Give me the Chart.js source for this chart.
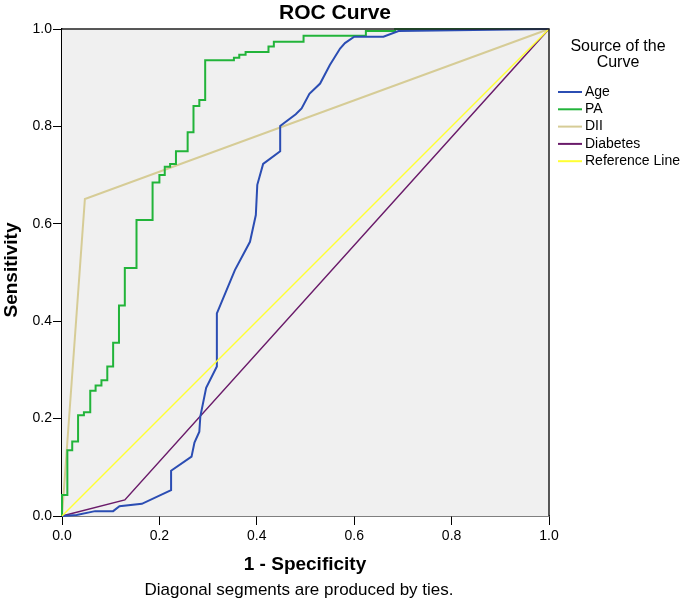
<!DOCTYPE html>
<html lang="en">
  <head>
    <meta charset="UTF-8" />
    <title>ROC Curve</title>
    <script src="https://cdn.jsdelivr.net/npm/chart.js@4.4.1/dist/chart.umd.min.js"></script>
    <style>
      body { margin: 0; background: #fff; }
    </style>
  </head>
  <body>
    <canvas id="chart" width="685" height="603"></canvas>
    <script>
    // values (1 - specificity, sensitivity)
    const ageX = [0, 0.03, 0.068, 0.105, 0.118, 0.164, 0.224, 0.224, 0.266, 0.272, 0.282, 0.284, 0.296, 0.318, 0.318, 0.355, 0.386, 0.398, 0.401, 0.413, 0.448, 0.448, 0.480, 0.492, 0.508, 0.530, 0.550, 0.571, 0.581, 0.600, 0.660, 0.691, 1];
    const ageY = [0, 0.002, 0.010, 0.010, 0.020, 0.025, 0.053, 0.093, 0.122, 0.151, 0.173, 0.204, 0.263, 0.307, 0.416, 0.505, 0.563, 0.618, 0.680, 0.723, 0.749, 0.801, 0.825, 0.837, 0.867, 0.888, 0.926, 0.960, 0.971, 0.984, 0.984, 0.996, 1];

    // PA is a step curve: each point is the top of a vertical step
    const paX = [0, 0, 0.011, 0.021, 0.033, 0.045, 0.058, 0.069, 0.081, 0.093, 0.105, 0.117, 0.129, 0.153, 0.186, 0.200, 0.211, 0.222, 0.234, 0.258, 0.270, 0.282, 0.294, 0.353, 0.364, 0.377, 0.424, 0.435, 0.496, 0.624, 0.684, 1];
    const paY = [0, 0.043, 0.135, 0.153, 0.207, 0.213, 0.257, 0.268, 0.279, 0.307, 0.356, 0.432, 0.509, 0.608, 0.685, 0.700, 0.717, 0.723, 0.749, 0.788, 0.842, 0.854, 0.936, 0.941, 0.947, 0.953, 0.964, 0.974, 0.986, 0.996, 1, 1];

    const diiX = [0, 0.047, 1];
    const diiY = [0, 0.651, 1];

    const diabetesX = [0, 0.129, 1];
    const diabetesY = [0, 0.033, 1];

    const refX = [0, 1];
    const refY = [0, 1];

    const axisTicks = [0, 0.2, 0.4, 0.6, 0.8, 1.0];

    const labels = ['Age', 'PA', 'DII', 'Diabetes', 'Reference Line'];
    const colors = ['#2b4db3', '#22b43a', '#d6cc96', '#6a1b6a', '#ffff33'];

    const FONT = "'Liberation Sans', Arial, sans-serif";

    function pts(xs, ys) {
      return xs.map((x, i) => ({ x: x, y: ys[i] }));
    }

    const plotBox = {
      id: 'plotBox',
      beforeDatasetsDraw(chart) {
        const a = chart.chartArea, ctx = chart.ctx;
        ctx.save();
        ctx.fillStyle = '#f0f0f0';
        ctx.fillRect(a.left, a.top, a.right - a.left, a.bottom - a.top);
        ctx.restore();
      },
      afterDatasetsDraw(chart) {
        const a = chart.chartArea, ctx = chart.ctx;
        ctx.save();
        ctx.strokeStyle = '#222';
        ctx.lineWidth = 1.5;
        ctx.beginPath();
        ctx.moveTo(a.left, a.top);
        ctx.lineTo(a.right, a.top);
        ctx.lineTo(a.right, a.bottom);
        ctx.stroke();
        ctx.restore();
      },
      afterDraw(chart) {
        const ctx = chart.ctx;
        ctx.save();
        ctx.fillStyle = '#000';
        ctx.textAlign = 'center';
        ctx.textBaseline = 'middle';

        ctx.font = 'bold 21px ' + FONT;
        ctx.fillText('ROC Curve', 335, 13);

        ctx.font = 'bold 19px ' + FONT;
        ctx.fillText('1 - Specificity', 305, 565);

        ctx.font = '17px ' + FONT;
        ctx.fillText('Diagonal segments are produced by ties.', 299, 590);

        ctx.save();
        ctx.translate(12, 270);
        ctx.rotate(-Math.PI / 2);
        ctx.font = 'bold 19px ' + FONT;
        ctx.fillText('Sensitivity', 0, 0);
        ctx.restore();

        // legend
        ctx.font = '16px ' + FONT;
        ctx.fillText('Source of the', 618, 47);
        ctx.fillText('Curve', 618, 63);
        ctx.font = '14px ' + FONT;
        ctx.textAlign = 'left';
        labels.forEach((lab, i) => {
          const y = 92 + i * 17.3;
          ctx.strokeStyle = colors[i];
          ctx.lineWidth = 2;
          ctx.beginPath();
          ctx.moveTo(558, y);
          ctx.lineTo(582, y);
          ctx.stroke();
          ctx.fillStyle = '#000';
          ctx.fillText(lab, 585, y);
        });
        ctx.restore();
      }
    };

    const ctx = document.getElementById('chart').getContext('2d');
    const myChart = new Chart(ctx, {
      type: 'scatter',
      data: {
        datasets: [
          { label: labels[0], data: pts(ageX, ageY), borderColor: colors[0], borderWidth: 2, order: 1 },
          { label: labels[1], data: pts(paX, paY), borderColor: colors[1], borderWidth: 2, stepped: 'before', order: 2 },
          { label: labels[2], data: pts(diiX, diiY), borderColor: colors[2], borderWidth: 2, order: 3 },
          { label: labels[3], data: pts(diabetesX, diabetesY), borderColor: colors[3], borderWidth: 1.5, order: 4 },
          { label: labels[4], data: pts(refX, refY), borderColor: colors[4], borderWidth: 1.5, order: 0 }
        ].map(d => Object.assign(d, { showLine: true, pointRadius: 0, fill: false, tension: 0, clip: false }))
      },
      options: {
        responsive: false,
        animation: false,
        layout: { padding: { left: 0, right: 136, top: 29, bottom: 0 } },
        plugins: {
          legend: { display: false },
          tooltip: { enabled: false }
        },
        scales: {
          x: {
            type: 'linear',
            min: 0,
            max: 1,
            afterFit: s => { s.height = 87; },
            afterBuildTicks: s => { s.ticks = axisTicks.map(v => ({ value: v })); },
            ticks: {
              callback: v => v.toFixed(1),
              color: '#000',
              padding: 3,
              maxRotation: 0,
              font: { family: FONT, size: 14 }
            },
            grid: { drawOnChartArea: false, tickLength: 9, color: '#000' },
            border: { color: '#000', width: 1.5 }
          },
          y: {
            type: 'linear',
            min: 0,
            max: 1,
            afterFit: s => { s.width = 62; },
            afterBuildTicks: s => { s.ticks = axisTicks.map(v => ({ value: v })); },
            ticks: {
              callback: v => v.toFixed(1),
              color: '#000',
              padding: 1,
              font: { family: FONT, size: 14 }
            },
            grid: { drawOnChartArea: false, tickLength: 9, color: '#000' },
            border: { color: '#000', width: 1.5 }
          }
        }
      },
      plugins: [plotBox]
    });
    </script>
  </body>
</html>
